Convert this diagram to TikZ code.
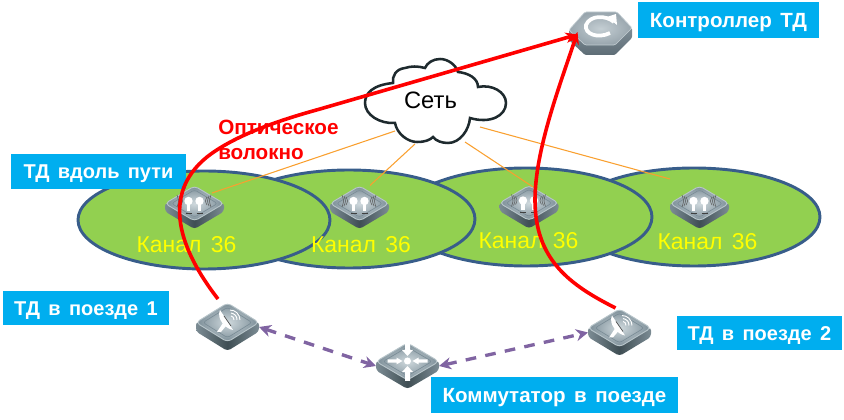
\documentclass[tikz,border=0pt]{standalone}
\usepackage{fontspec}
\setmainfont[WordSpace=1.5]{Liberation Sans}
\usetikzlibrary{arrows.meta,shapes.geometric}
\definecolor{zoneedge}{HTML}{385D8A}
\definecolor{zonefill}{HTML}{92D050}
\definecolor{labelblue}{HTML}{00AEEF}
\definecolor{fiberred}{HTML}{FF0000}
\definecolor{linkpurple}{HTML}{8064A2}
\definecolor{feeder}{HTML}{F9A030}
\definecolor{chanyellow}{HTML}{FFFF00}
\definecolor{sidedark}{HTML}{3F4E54}
\definecolor{sidemid}{HTML}{5F7079}
\definecolor{sidelight}{HTML}{7C8C94}
\definecolor{faceout}{HTML}{7A8C96}
\definecolor{facein}{HTML}{CFD9DD}
\definecolor{facerim}{HTML}{B8C5CA}
\definecolor{cloudedge}{HTML}{1E2A2E}
\definecolor{ctrlface}{HTML}{98A5AD}
\definecolor{ctrlfacein}{HTML}{C4CED3}
\definecolor{ctrltop}{HTML}{7F8D96}
\definecolor{ctrlbot}{HTML}{5E6D76}
\tikzset{
  x=0.75pt,y=-0.75pt,
  zone/.style={ellipse,draw=zoneedge,fill=zonefill,line width=2.2pt,inner sep=0pt,minimum width=189pt,minimum height=73.5pt},
  tag/.style={fill=labelblue,text=white,font=\fontsize{15.4}{18}\selectfont\bfseries,inner sep=0pt,anchor=center,text height=11pt,text depth=0pt},
  tagsmall/.style={tag,font=\fontsize{15}{18}\selectfont\bfseries},
  chan/.style={text=chanyellow,font=\fontsize{17.2}{20}\selectfont,inner sep=0pt},
  feed/.style={draw=feeder,line width=0.8pt},
  fiber/.style={draw=fiberred,line width=2.7pt,-{Stealth[length=9pt,width=8pt]}},
  link/.style={draw=linkpurple,line width=2.5pt,dash pattern=on 8pt off 7pt,{Stealth[length=9pt,width=9pt]}-{Stealth[length=9pt,width=9pt]}},
  wave/.style={draw=gray!70!black,line width=0.4pt}
}
% name cx cy hw hh depth : flat square device
\newcommand{\devbase}[6]{%
  \begin{scope}[shift={(#2,#3)}]
    \shade[left color=sidelight,right color=sidelight,middle color=sidedark,rounded corners=2.5pt]
      (-#4,-1) -- (-#4,#6) -- (0,#5+#6) -- (#4,#6) -- (#4,-1) -- (0,#5) -- cycle;
    \shade[inner color=facein,outer color=faceout,rounded corners=3pt,draw=facerim,line width=0.7pt]
      (-#4,0) -- (0,-#5) -- (#4,0) -- (0,#5) -- cycle;
    \path[rounded corners=2pt,draw=faceout,line width=0.5pt]
      (-#4*0.78,0) -- (0,-#5*0.78) -- (#4*0.78,0) -- (0,#5*0.78) -- cycle;
  \end{scope}
  \node[inner sep=0pt,outer sep=0pt,minimum width={1.5pt*#4},minimum height={0.75pt*(2*#5+#6)}] (#1) at (#2,#3+#6/2) {};
}
\newcommand{\apicon}[2]{%
  \begin{scope}[shift={(#1,#2)}]
    \foreach \s in {-1,1}{
      \fill[white] (\s*5.5,-3) circle (4.2);
      \fill[white] (\s*5.5-1.6,-1) -- (\s*5.5+1.6,-1) -- (\s*5.5+1.6,7) -- (\s*5.5-1.6,7) -- cycle;
      \draw[wave] (\s*13,-7) .. controls (\s*11,-3) .. (\s*13,1);
      \draw[wave] (\s*15,-8) .. controls (\s*13,-3) .. (\s*15,2);
      \draw[wave] (\s*17,-9) .. controls (\s*15,-3) .. (\s*17,3);
      \draw[gray!50!black,line width=0.6pt] (\s*5.5-3,9) -- (\s*5.5+3,9);
    }
  \end{scope}
}
\newcommand{\dishicon}[2]{%
  \begin{scope}[shift={(#1,#2)}]
    \fill[white] (-6,-13) .. controls (-10,-4) and (0,6) .. (7,7) -- cycle;
    \fill[white] (-3,0) -- (-9,9) -- (-5,9) -- (0,3) -- cycle;
    \draw[gray!60!black,line width=0.5pt] (-2,-7) -- (5,3);
    \draw[white,line width=0.7pt] (5,-10) .. controls (9,-9) and (11,-7) .. (11,-3);
    \draw[white,line width=0.7pt] (5,-7) .. controls (7,-7) and (8,-5) .. (8,-3);
    \draw[white,line width=0.7pt] (4,-13) .. controls (9,-13) and (14,-9) .. (14,-3);
  \end{scope}
}
\newcommand{\switchicon}[2]{%
  \begin{scope}[shift={(#1,#2)}]
    \fill[white] (0,0) circle (3.5);
    \foreach \a/\b in {0/0.62,90/1,180/0.62,270/1}{
      \begin{scope}[rotate=\a,yscale=\b]
        \fill[white] (20,-2.5) -- (11,-2.5) -- (11,-5.5) -- (5,0) -- (11,5.5) -- (11,2.5) -- (20,2.5) -- cycle;
      \end{scope}
    }
  \end{scope}
}
\begin{document}
\begin{tikzpicture}
\useasboundingbox (0,0) rectangle (844,420);
% channel zones
\node[zone] (zone4) at (694,217) {};
\node[zone] (zone3) at (526,217) {};
\node[zone] (zone2) at (349,219) {};
\node[zone] (zone1) at (204,220) {};
% cloud attachment points and free end
\coordinate (cl1) at (395,131);
\coordinate (cl2) at (415,144);
\coordinate (cl3) at (465,142);
\coordinate (cl4) at (480,127);
\coordinate (feedend) at (670,179);
% wayside devices
\devbase{ap1}{194.5}{203.5}{29.5}{17.5}{8}\apicon{194}{204}
\devbase{ap2}{359.5}{203.5}{29.5}{17.5}{8}\apicon{359}{204}
\devbase{ap3}{529}{203}{29.5}{17.5}{8}\apicon{528.5}{203.5}
\devbase{ap4}{699.5}{203.5}{29.5}{17.5}{8}\apicon{699}{204}
% feeders
\draw[feed] (cl1) -- ([shift={(17.5,-14.5)}]ap1.center);
\draw[feed] (cl2) -- ([shift={(10.5,-22)}]ap2.center);
\draw[feed] (cl3) -- ([shift={(4,-20)}]ap3.center);
\draw[feed] (cl4) -- (feedend);
% train devices
\devbase{t1}{227.5}{322.5}{31.5}{19.5}{9}\dishicon{226}{323}
\devbase{sw}{407.5}{361.5}{31.5}{18.5}{9}\switchicon{407.5}{361}
\devbase{t2}{619.5}{328}{31.5}{19}{9}\dishicon{618}{328.5}
% controller
\shade[top color=ctrltop,bottom color=ctrlbot,rounded corners=1pt]
  (569,30) -- (569,40) -- (585,55) -- (615,55) -- (632,38) -- (632,28) -- cycle;
\shade[inner color=ctrlfacein,outer color=ctrlface,draw=ctrlfacein,line width=0.5pt,rounded corners=1pt]
  (585,12) -- (617,12) -- (632,28) -- (615,45) -- (585,45) -- (569,30) -- cycle;
\draw[white,line width=2.8pt] (614,22) .. controls (606,15) and (590,15) .. (586,25) .. controls (584,34) and (598,39) .. (610,33);
\fill[white] (607,17) -- (616,14) -- (617,25) -- cycle;
\node[inner sep=0pt,minimum width=47.25pt,minimum height=33pt] (ctrl) at (600.5,33) {};
% cloud
\draw[fill=white,draw=cloudedge,line width=1.9pt]
  (393,83) .. controls (373,85) and (365,93) .. (365,103)
  .. controls (365,115) and (380,124) .. (395,123)
  .. controls (397,134) and (408,142) .. (417,142)
  .. controls (425,142) and (430,140) .. (433,137)
  .. controls (436,141) and (442,143) .. (448,143)
  .. controls (460,143) and (469,130) .. (470,118)
  .. controls (490,124) and (506,116) .. (506,103)
  .. controls (506,92) and (492,84) .. (478,87)
  .. controls (478,78) and (468,73) .. (458,72)
  .. controls (456,65) and (448,59) .. (440,59)
  .. controls (433,59) and (427,63) .. (425,68)
  .. controls (418,66) and (411,66) .. (405,68)
  .. controls (396,69) and (392,76) .. (393,83) -- cycle;
\node[inner sep=0pt,font=\fontsize{17.8}{20}\selectfont,text=black] (net) at (430.5,100) {Сеть};
% channel labels
\node[chan] (ch1) at (186.5,245) {Канал 36};
\node[chan] (ch2) at (361,245) {Канал 36};
\node[chan] (ch3) at (528.5,241) {Канал 36};
\node[chan] (ch4) at (707.5,242) {Канал 36};
% purple links
\draw[link] (t1.east) -- (sw.west);
\draw[link] (sw.east) -- (t2.west);
% tags
\node[tag,minimum width=135.75pt,minimum height=27pt] (tagctrl) at (728.5,20) {Контроллер ТД};
\node[tagsmall,minimum width=131.25pt,minimum height=26.25pt] (tagway) at (98.5,171.5) {ТД вдоль пути};
\node[tagsmall,minimum width=124.5pt,minimum height=25.5pt] (tagt1) at (86,308) {ТД в поезде 1};
\node[tagsmall,minimum width=123.75pt,minimum height=25.5pt] (tagt2) at (759.5,333) {ТД в поезде 2};
\node[tag,minimum width=185.25pt,minimum height=27pt] (tagsw) at (554.5,395) {Коммутатор в поезде};
% fibre
\draw[fiber] ([shift={(-9.5,-4)}]t1.north) .. controls (180,250) and (160,195) .. (207,157)
  .. controls (235,135) and (280,120) .. (320,109) -- ([shift={(-23,1.5)}]ctrl.center);
\draw[fiber] ([shift={(-4,-1)}]t2.north) .. controls (570,285) and (535,260) .. (535,200)
  .. controls (535,150) and (560,85) .. ([shift={(-23,-1)}]ctrl.center);
\node[anchor=north west,inner sep=0pt,align=left,text=fiberred,font=\fontsize{15.5}{18.7}\selectfont\bfseries] (fibretext) at (218,120) {Оптическое\\волокно};
\end{tikzpicture}
\end{document}
